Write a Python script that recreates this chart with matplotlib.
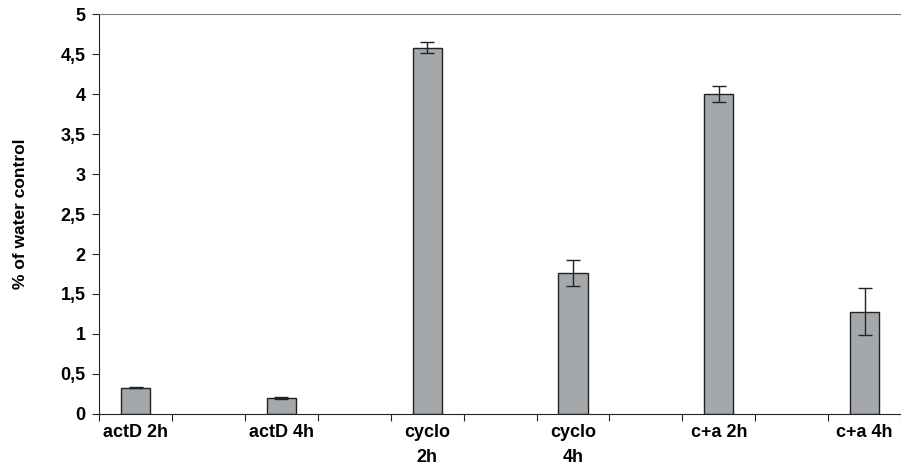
import numpy as np
import matplotlib.pyplot as plt

# treatments, mean response and error (% of water control)
labels = ["actD 2h", "actD 4h", "cyclo\n2h", "cyclo\n4h", "c+a 2h", "c+a 4h"]
means = [0.33, 0.20, 4.58, 1.76, 4.00, 1.28]
errors = [0.01, 0.01, 0.065, 0.165, 0.10, 0.29]

plt.rcParams['font.family'] = ['Liberation Sans', 'DejaVu Sans']
plt.rcParams['font.weight'] = 'bold'

fig = plt.figure(figsize=(9.01, 4.72), dpi=100)
ax = fig.add_axes([0.1102, 0.1229, 0.8898, 0.8474])

# every treatment sits in every other slot of the category axis
x = np.arange(len(labels)) * 2
ax.bar(x, means, width=0.4, color='#a5a8ab', edgecolor='#222222', linewidth=1.0, zorder=2)
ax.errorbar(x, means, yerr=errors, fmt='none', ecolor='#222222', elinewidth=1.0,
            capsize=5, capthick=1.0, zorder=3)

ax.set_xlim(-0.5, 10.38)
ax.set_ylim(0, 5)
yt = np.arange(0, 5.01, 0.5)
ax.set_yticks(yt)
ax.set_yticklabels(['{:g}'.format(v).replace('.', ',') for v in yt])

# tick marks between slots, labels under the bars
ax.set_xticks(np.arange(-0.5, 11, 1.0))
ax.set_xticklabels([])
ax.set_xticks(x, minor=True)
ax.set_xticklabels(labels, minor=True, va='top', linespacing=1.6)
ax.tick_params(axis='x', which='major', length=5, direction='out', color='#222222')
ax.tick_params(axis='x', which='minor', length=0, pad=7, labelsize=13)
ax.tick_params(axis='y', length=5, direction='out', color='#222222', labelsize=13, pad=5)

ax.spines['right'].set_visible(False)
ax.spines['top'].set_color('#808080')
ax.spines['left'].set_color('#222222')
ax.spines['bottom'].set_color('#222222')

ax.set_ylabel("% of water control", fontsize=12.5, fontweight='bold')
ax.yaxis.set_label_coords(-0.0895, 0.5)

plt.savefig("out.png", dpi=100)
